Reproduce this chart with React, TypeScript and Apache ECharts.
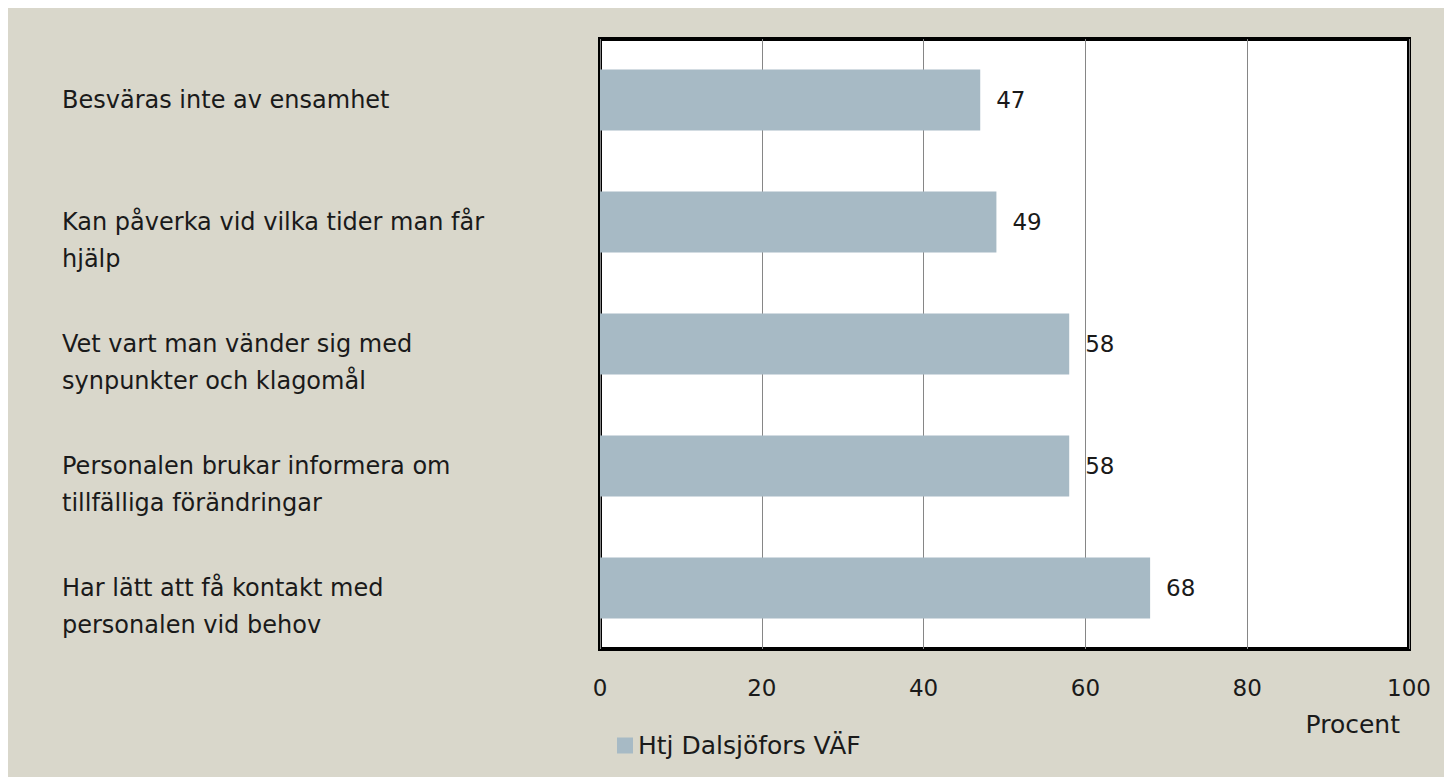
import React, { useEffect, useRef } from "react";
import * as echarts from "echarts";

const categories = [
  "Besväras inte av ensamhet",
  "Kan påverka vid vilka tider man får\nhjälp",
  "Vet vart man vänder sig med\nsynpunkter och klagomål",
  "Personalen brukar informera om\ntillfälliga förändringar",
  "Har lätt att få kontakt med\npersonalen vid behov",
];
const values = [47, 49, 58, 58, 68];
const seriesName = "Htj Dalsjöfors VÄF";
const axisName = "Procent";
const xTicks = { min: 0, max: 100, interval: 20 };

const FONT = "DejaVu Sans";
const TEXT = "#1a1a1a";

export default function App() {
  const ref = useRef<HTMLDivElement>(null);
  useEffect(() => {
    if (!ref.current) return;
    const chart = echarts.init(ref.current, undefined, { renderer: "svg" });
    chart.setOption({
      animation: false,
      backgroundColor: "#d9d7cb",
      textStyle: { fontFamily: FONT, color: TEXT },
      grid: {
        left: 592,
        top: 31,
        right: 43,
        bottom: 128,
        containLabel: false,
        outerBoundsMode: "none",
        show: true,
        backgroundColor: "#ffffff",
        borderColor: "#000000",
        borderWidth: 4,
      },
      legend: {
        left: 604,
        top: 720,
        itemWidth: 16,
        itemHeight: 16,
        itemGap: 10,
        icon: "rect",
        textStyle: { fontFamily: FONT, fontSize: 25, color: TEXT },
        data: [seriesName],
      },
      graphic: [
        {
          type: "text",
          right: 52,
          top: 704,
          style: {
            text: axisName,
            fontFamily: FONT,
            fontSize: 25,
            fill: TEXT,
          },
        },
      ],
      xAxis: {
        type: "value",
        min: xTicks.min,
        max: xTicks.max,
        interval: xTicks.interval,
        axisLine: { show: false },
        axisTick: { show: false },
        splitLine: { show: true, lineStyle: { color: "#868686", width: 1 } },
        axisLabel: { fontFamily: FONT, fontSize: 23, color: TEXT, margin: 27 },
      },
      yAxis: {
        type: "category",
        inverse: true,
        data: categories,
        axisLine: { show: false },
        axisTick: { show: false },
        splitLine: { show: false },
        axisLabel: {
          fontFamily: FONT,
          fontSize: 24,
          color: TEXT,
          align: "left",
          margin: 538,
          lineHeight: 37,
          formatter: (v: string) => (v.indexOf("\n") >= 0 ? "\n" + v : v),
        },
      },
      series: [
        {
          name: seriesName,
          type: "bar",
          data: values,
          barWidth: "50%",
          itemStyle: { color: "#a7bac5" },
          label: {
            show: true,
            position: "right",
            distance: 16,
            fontFamily: FONT,
            fontSize: 23,
            color: TEXT,
          },
        },
      ],
    });
    return () => chart.dispose();
  }, []);
  return <div ref={ref} style={{ width: 1444, height: 769 }} />;
}
